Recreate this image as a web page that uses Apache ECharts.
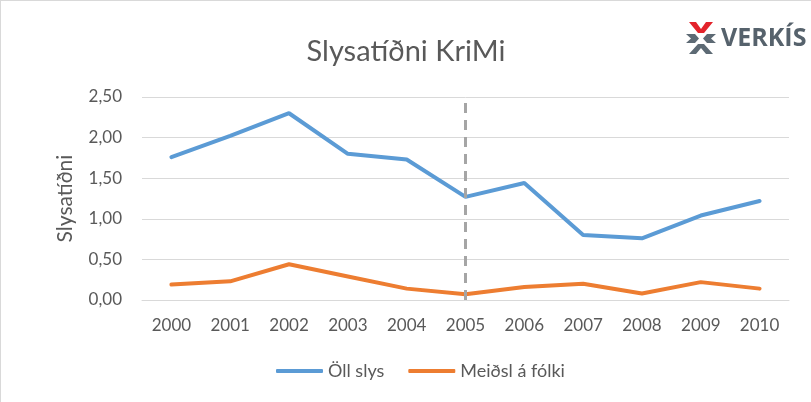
<!DOCTYPE html>
<html>
<head>
    <meta charset="utf-8">
    <title>Slysatíðni KriMi</title>
    <script src="https://cdn.jsdelivr.net/npm/echarts@6/dist/echarts.min.js"></script>
    <style>
        html, body { margin: 0; padding: 0; background: #fff; }
        #chart_div { width: 811px; height: 402px; box-sizing: border-box; border-top: 1px solid #d9d9d9; border-left: 1px solid #d9d9d9; }
    </style>
</head>
<body>
    <div id="chart_div"></div>
    <script>
        const years = ['2000', '2001', '2002', '2003', '2004', '2005', '2006', '2007', '2008', '2009', '2010'];
        const ollSlys = [1.76, 2.02, 2.30, 1.80, 1.73, 1.27, 1.44, 0.80, 0.76, 1.04, 1.22];
        const meidslAFolki = [0.19, 0.23, 0.44, 0.29, 0.14, 0.07, 0.16, 0.20, 0.08, 0.22, 0.14];
        const markYear = '2005';

        const font = 'Lato, "Open Sans", sans-serif';
        const myChart = echarts.init(document.getElementById('chart_div'));

        const option = {
            animation: false,
            title: {
                text: 'Slysatíðni KriMi',
                left: 'center',
                top: 31,
                textStyle: { fontFamily: font, fontSize: 29, fontWeight: 'normal', color: '#595959' }
            },
            legend: {
                bottom: 17,
                left: 270,
                itemWidth: 47,
                itemHeight: 4,
                itemGap: 24,
                icon: 'roundRect',
                textStyle: { fontFamily: font, fontSize: 18, color: '#595959' },
                data: ['Öll slys', 'Meiðsl á fólki']
            },
            grid: { left: 141, right: 22, top: 96, bottom: 102 },
            xAxis: {
                type: 'category',
                data: years,
                boundaryGap: true,
                axisLine: { lineStyle: { color: '#d9d9d9' } },
                axisTick: { show: false },
                axisLabel: { fontFamily: font, fontSize: 17, color: '#595959', margin: 17 }
            },
            yAxis: {
                type: 'value',
                min: 0,
                max: 2.5,
                interval: 0.5,
                name: 'Slysatíðni',
                nameLocation: 'middle',
                nameGap: 66,
                nameTextStyle: { fontFamily: font, fontSize: 21, color: '#595959' },
                axisLine: { show: false },
                axisTick: { show: false },
                splitLine: { lineStyle: { color: '#d9d9d9', width: 1 } },
                axisLabel: {
                    fontFamily: font, fontSize: 17, color: '#595959', margin: 20,
                    formatter: v => v.toFixed(2).replace('.', ',')
                }
            },
            series: [
                {
                    name: 'Öll slys',
                    type: 'line',
                    data: ollSlys,
                    symbol: 'none',
                    lineStyle: { color: '#5b9bd5', width: 4, cap: 'round' },
                    itemStyle: { color: '#5b9bd5' },
                    markLine: {
                        silent: true,
                        symbol: 'none',
                        label: { show: false },
                        lineStyle: { color: '#a5a5a5', type: [10, 7], width: 3 },
                        data: [{ xAxis: markYear }]
                    }
                },
                {
                    name: 'Meiðsl á fólki',
                    type: 'line',
                    data: meidslAFolki,
                    symbol: 'none',
                    lineStyle: { color: '#ed7d31', width: 4, cap: 'round' },
                    itemStyle: { color: '#ed7d31' }
                }
            ],
            graphic: [
                // Verkís logo, top right
                {
                    type: 'group',
                    left: 685,
                    top: 21,
                    children: [
                        { type: 'polygon', shape: { points: [[3, 0], [10, 0], [15, 7], [20, 0], [27, 0], [18, 11], [12, 11]] }, style: { fill: '#e3232b' } },
                        { type: 'polygon', shape: { points: [[0, 12], [9, 12], [13, 16.5], [9, 21], [0, 21], [5, 16.5]] }, style: { fill: '#5d6a74' } },
                        { type: 'polygon', shape: { points: [[30, 12], [21, 12], [17, 16.5], [21, 21], [30, 21], [25, 16.5]] }, style: { fill: '#5d6a74' } },
                        { type: 'polygon', shape: { points: [[12, 22], [18, 22], [27, 32], [20, 32], [15, 26], [10, 32], [3, 32]] }, style: { fill: '#5d6a74' } },
                        {
                            type: 'text',
                            left: 35,
                            top: 4,
                            style: { text: 'VERKÍS', fontFamily: '"Open Sans", sans-serif', fontSize: 25, fontWeight: 'bold', fill: '#56626c' }
                        }
                    ]
                }
            ]
        };

        myChart.setOption(option);
    </script>
</body>
</html>
